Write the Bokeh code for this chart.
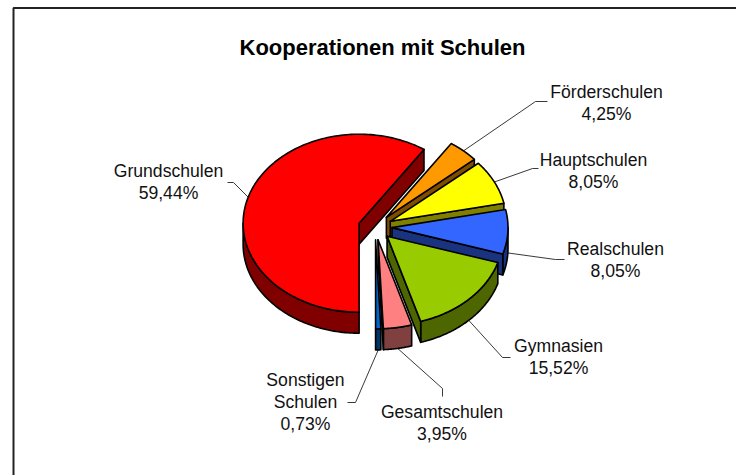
import numpy as np
from bokeh.plotting import figure
from bokeh.models import Range1d
from bokeh.core.properties import value
from bokeh.embed import file_html
from bokeh.resources import INLINE

# Data (clockwise from the bottom of the pie)
categories = ["Grundschulen", "Förderschulen", "Hauptschulen", "Realschulen",
              "Gymnasien", "Gesamtschulen", "Sonstigen\nSchulen"]
shares = [59.44, 4.25, 8.05, 8.05, 15.52, 3.95, 0.73]
title_text = "Kooperationen mit Schulen"

# Styles
top_colors = ["#FF0000", "#FF9900", "#FFFF00", "#3366FF", "#99CC00", "#FF8080", "#0066CC"]
side_colors = ["#800000", "#804D00", "#808000", "#1A3380", "#4D6600", "#804040", "#003366"]

# Layout (page pixels)
W, H = 736, 475
CX, CY, RX, RY, DEPTH, EXPLODE = 374.7, 226.5, 116.0, 89.0, 21.0, 0.145
START = 180.0
label_x = [168, 606, 593, 615, 558, 441.5, 305]
label_y = [170, 91, 159, 248, 345, 411, 379]
LINE_H = 22.3
elbows = [[(233, 182), (227, 182)], [(535, 101), (547, 101)], [(532, 168), (538, 168)],
          [(555, 259), (564, 259)], [(502, 357), (510, 357)], [(442, 388), (442, 396)],
          [(355, 402), (347, 402)]]
frame_x = [W, 13, 13]
frame_y = [7.5, 7.5, H]
# Painter's order: back to front
draw_order = [0, 1, 2, 3, 6, 5, 4]


def unit(a):
    r = np.radians(a)
    return RX * np.sin(r), -RY * np.cos(r)


total = sum(shares)
angles = []
cur = START
for s in shares:
    angles.append((cur, cur + s / total * 360.0))
    cur += s / total * 360.0

xs, ys, fills = [], [], []


def add(px, py, col):
    xs.append(list(px))
    ys.append(list(py))
    fills.append(col)


leaders_x, leaders_y = [], []
for i in draw_order:
    a0, a1 = angles[i]
    mid = (a0 + a1) / 2
    ux, uy = unit(mid)
    ax, ay = CX + EXPLODE * ux, CY + EXPLODE * uy
    # outer wall: visible for angles between 90 and 270 (mod 360)
    for lo, hi in ((90, 270), (450, 630)):
        b0, b1 = max(a0, lo), min(a1, hi)
        if b1 > b0:
            t = np.linspace(b0, b1, 80)
            wx, wy = unit(t)
            wx, wy = ax + wx, ay + wy
            add(np.r_[wx, wx[::-1]], np.r_[wy, wy[::-1] + DEPTH], side_colors[i])
    # cut face at the clockwise end
    if np.sin(np.radians(a1)) > 0.001:
        ex, ey = unit(a1)
        add([ax, ax + ex, ax + ex, ax], [ay, ay + ey, ay + ey + DEPTH, ay + DEPTH], side_colors[i])
    # top face
    t = np.linspace(a0, a1, 160)
    tx, ty = unit(t)
    add(np.r_[ax, ax + tx], np.r_[ay, ay + ty], top_colors[i])

for i in range(len(shares)):
    a0, a1 = angles[i]
    mid = (a0 + a1) / 2
    ux, uy = unit(mid)
    ax, ay = CX + EXPLODE * ux, CY + EXPLODE * uy
    sy = ay + uy + (DEPTH if 90 < (mid % 360) < 270 else 0)
    pts = [(ax + ux, sy)] + elbows[i]
    leaders_x.append([q[0] for q in pts])
    leaders_y.append([q[1] for q in pts])

p = figure(width=W, height=H, output_backend="svg", toolbar_location=None,
           x_range=Range1d(0, W), y_range=Range1d(H, 0), min_border=0)
p.axis.visible = False
p.grid.visible = False
p.background_fill_color = "white"
p.border_fill_color = "white"
p.outline_line_color = None

p.line(frame_x, frame_y, line_color="#222222", line_width=2)
p.multi_line(leaders_x, leaders_y, line_color="#222222", line_width=0.9)
p.patches(xs, ys, fill_color=fills, line_color="black", line_width=1.6, line_join="round")

tx, ty, tt = [], [], []
for name, s, x, y in zip(categories, shares, label_x, label_y):
    rows = name.split("\n") + [f"{s:.2f}".replace(".", ",") + "%"]
    for k, r in enumerate(rows):
        tx.append(x)
        ty.append(y + k * LINE_H)
        tt.append(r)
p.text(tx, ty, text=tt, text_font=value("Liberation Sans"), text_font_size="17.6px",
       text_align="center", text_baseline="middle", text_color="#111111")
p.text([382], [47], text=[title_text], text_font=value("Liberation Sans"), text_font_size="22px",
       text_font_style="bold", text_align="center", text_baseline="middle", text_color="black")

open("out.html", "w").write(file_html(p, INLINE))
